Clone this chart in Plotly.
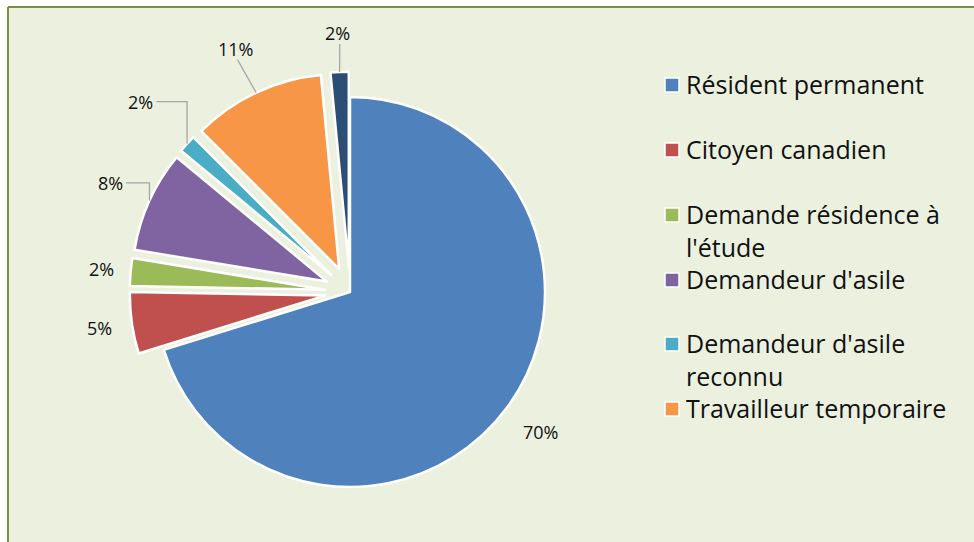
import math
import plotly.graph_objects as go

# ---- data ----
categories = ["Résident permanent", "Citoyen canadien", "Demande résidence à l'étude",
              "Demandeur d'asile", "Demandeur d'asile reconnu", "Travailleur temporaire", "Autre"]
values = [70.2, 5.1, 2.3, 8.4, 1.5, 11.0, 1.5]
pct_labels = ["70%", "5%", "2%", "8%", "2%", "11%", "2%"]
legend_labels = ["Résident permanent", "Citoyen canadien", "Demande résidence à<br>l'étude",
                 "Demandeur d'asile", "Demandeur d'asile<br>reconnu", "Travailleur temporaire"]

# ---- styles ----
colors = ["#4F81BD", "#C0504D", "#9BBB59", "#8064A2", "#4BACC6", "#F79646", "#2C4D75"]
pulls = [0, 0.13, 0.13, 0.13, 0.13, 0.13, 0.13]
label_dist = [1.21, 1.17, 1.15, 1.22, 1.32, 1.25, 1.2]   # label distance (x radius)
leader = [False, False, False, True, True, True, True]
W, H = 974, 542
FONT = "Open Sans"
LBL_SIZE = 18

# pie geometry (pixels): centre and radius
cx, cy, r = 350, 292, 195
half = r * (1 + max(pulls))
dom_x = [(cx - half) / W, (cx + half) / W]
dom_y = [1 - (cy + half) / H, 1 - (cy - half) / H]


def px(x):
    return x / W


def py(y):
    return 1 - y / H


fig = go.Figure(go.Pie(
    labels=categories, values=values, sort=False, direction="clockwise", rotation=0,
    pull=pulls, marker=dict(colors=colors, line=dict(color="white", width=2.5)),
    textinfo="none", showlegend=False, domain=dict(x=dom_x, y=dom_y),
    hoverinfo="label+percent",
))

shapes = [
    dict(type="rect", xref="paper", yref="paper", x0=px(8), x1=1.01, y0=-0.01, y1=py(7),
         fillcolor="#EBF0DF", line=dict(width=0), layer="below"),
    dict(type="line", xref="paper", yref="paper", x0=px(8), x1=1.01, y0=py(7), y1=py(7),
         line=dict(color="#77933C", width=2)),
    dict(type="line", xref="paper", yref="paper", x0=px(8), x1=px(8), y0=-0.01, y1=py(7),
         line=dict(color="#77933C", width=2)),
]
annotations = []
LEAD = dict(color="#A6A6A6", width=1.3)

# data labels placed along each slice's mid angle (derived from values)
total = sum(values)
cum = 0
for v, lab, p, ld, dist in zip(values, pct_labels, pulls, leader, label_dist):
    mid = math.radians((cum + v / 2) / total * 360)
    cum += v
    dx, dy = math.sin(mid), -math.cos(mid)
    pcx, pcy = cx + p * r * dx, cy + p * r * dy
    lx, ly = pcx + dist * r * dx, pcy + dist * r * dy
    annotations.append(dict(text=lab, xref="paper", yref="paper",
                            x=px(lx), y=py(ly), xanchor="center", yanchor="middle",
                            showarrow=False, font=dict(family=FONT, size=LBL_SIZE, color="#111111")))
    if ld:
        p0x, p0y = pcx + r * dx, pcy + r * dy
        w = LBL_SIZE * (0.572 * (len(lab) - 1) + 0.82)
        right = lx + w / 2 + 3
        if p0x - right > 12:
            path = (f"M {px(right)},{py(ly)} L {px(p0x)},{py(ly)} L {px(p0x)},{py(p0y)}")
            shapes.append(dict(type="path", xref="paper", yref="paper", path=path, line=LEAD))
        else:
            shapes.append(dict(type="line", xref="paper", yref="paper",
                               x0=px(lx + 2), y0=py(ly + 11), x1=px(p0x), y1=py(p0y), line=LEAD))

legend_rows = [85, 150, 215, 280, 344, 409]
for lab, col, yy in zip(legend_labels, colors, legend_rows):
    shapes.append(dict(type="rect", xref="paper", yref="paper",
                       x0=px(665), x1=px(679), y0=py(yy + 7), y1=py(yy - 7),
                       fillcolor=col, line=dict(color="white", width=1.5)))
    annotations.append(dict(text=lab, xref="paper", yref="paper", x=px(684), y=py(yy - 20),
                            xanchor="left", yanchor="top", align="left", showarrow=False,
                            font=dict(family=FONT, size=25, color="#111111")))

fig.update_layout(
    width=W, height=H, margin=dict(l=0, r=0, t=0, b=0),
    paper_bgcolor="white", shapes=shapes, annotations=annotations,
)
fig.write_html("out.html", config={"displayModeBar": False},
               post_script="document.body.style.margin='0';")
